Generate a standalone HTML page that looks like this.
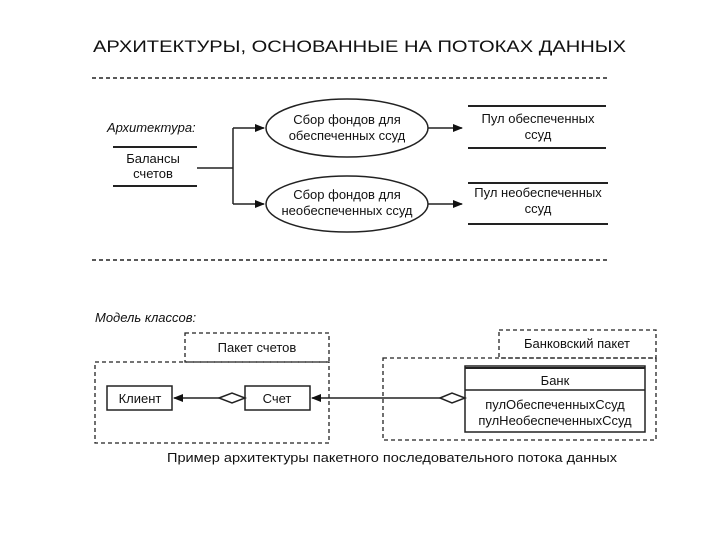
<!DOCTYPE html>
<html><head><meta charset="utf-8"><style>
html,body{margin:0;padding:0;background:#fff;width:720px;height:540px;overflow:hidden}
svg{display:block}
text{font-family:"Liberation Sans",sans-serif;fill:#111}
</style></head><body>
<svg width="720" height="540" viewBox="0 0 720 540">
<defs>
<marker id="ar" markerWidth="10" markerHeight="8" refX="9" refY="4" orient="auto" markerUnits="userSpaceOnUse"><path d="M0,0 L10,4 L0,8 Z" fill="#111"/></marker>
</defs>
<text x="93" y="52" font-size="16.5" textLength="533" lengthAdjust="spacingAndGlyphs">АРХИТЕКТУРЫ, ОСНОВАННЫЕ НА ПОТОКАХ ДАННЫХ</text>
<g stroke="#222" stroke-width="1.5" fill="none">
<line x1="92" y1="78" x2="608" y2="78" stroke-dasharray="4,3"/>
<line x1="92" y1="260" x2="608" y2="260" stroke-dasharray="4,3"/>
<line x1="113" y1="147" x2="197" y2="147" stroke-width="2"/>
<line x1="113" y1="186" x2="197" y2="186" stroke-width="2"/>
<polyline points="197,168 233,168"/>
<line x1="233" y1="128" x2="233" y2="204"/>
<line x1="233" y1="128" x2="264" y2="128" marker-end="url(#ar)"/>
<line x1="233" y1="204" x2="264" y2="204" marker-end="url(#ar)"/>
<ellipse cx="347" cy="128" rx="81" ry="29"/>
<ellipse cx="347" cy="204" rx="81" ry="28"/>
<line x1="428" y1="128" x2="462" y2="128" marker-end="url(#ar)"/>
<line x1="428" y1="204" x2="462" y2="204" marker-end="url(#ar)"/>
<line x1="468" y1="106" x2="606" y2="106" stroke-width="2"/>
<line x1="468" y1="148" x2="606" y2="148" stroke-width="2"/>
<line x1="468" y1="183" x2="608" y2="183" stroke-width="2"/>
<line x1="468" y1="224" x2="608" y2="224" stroke-width="2"/>
</g>
<text x="107" y="132" font-size="13" font-style="italic">Архитектура:</text>
<g font-size="13" text-anchor="middle">
<text x="153" y="163">Балансы</text>
<text x="153" y="178">счетов</text>
<text x="347" y="124">Сбор фондов для</text>
<text x="347" y="140">обеспеченных ссуд</text>
<text x="347" y="199">Сбор фондов для</text>
<text x="347" y="215">необеспеченных ссуд</text>
<text x="538" y="123">Пул обеспеченных</text>
<text x="538" y="139">ссуд</text>
<text x="538" y="197">Пул необеспеченных</text>
<text x="538" y="213">ссуд</text>
</g>
<text x="95" y="322" font-size="13" font-style="italic">Модель классов:</text>
<g stroke="#222" stroke-width="1.3" fill="none" stroke-dasharray="4,3">
<rect x="185" y="333" width="144" height="29"/>
<rect x="95" y="362" width="234" height="81"/>
<rect x="499" y="330" width="157" height="28"/>
<rect x="383" y="358" width="273" height="82"/>
</g>
<g stroke="#222" stroke-width="1.5" fill="#fff">
<rect x="107" y="386" width="65" height="24"/>
<rect x="245" y="386" width="65" height="24"/>
<rect x="465" y="366" width="180" height="66"/>
<line x1="465" y1="390" x2="645" y2="390"/>
<line x1="465" y1="368" x2="645" y2="368" stroke-width="2"/>
<line x1="219" y1="398" x2="174" y2="398" marker-end="url(#ar)"/>
<path d="M219,398 L232,393 L245,398 L232,403 Z"/>
<line x1="440" y1="398" x2="312" y2="398" marker-end="url(#ar)"/>
<path d="M440,398 L452,393 L465,398 L452,403 Z"/>
</g>
<g font-size="13" text-anchor="middle">
<text x="257" y="352">Пакет счетов</text>
<text x="577" y="348">Банковский пакет</text>
<text x="140" y="403">Клиент</text>
<text x="277" y="403">Счет</text>
<text x="555" y="385">Банк</text>
<text x="555" y="409">пулОбеспеченныхСсуд</text>
<text x="555" y="425">пулНеобеспеченныхСсуд</text>
<text x="392" y="462" textLength="450" lengthAdjust="spacingAndGlyphs">Пример архитектуры пакетного последовательного потока данных</text>
</g>
</svg>
</body></html>
